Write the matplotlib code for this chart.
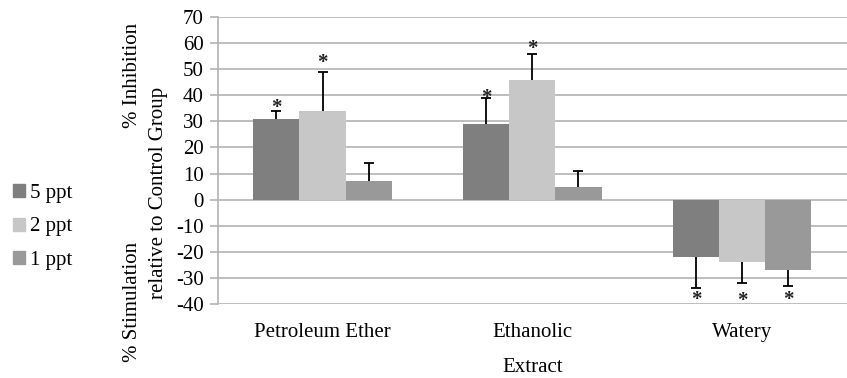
import numpy as np
import matplotlib
matplotlib.use("Agg")
import matplotlib.pyplot as plt
from matplotlib.patches import Patch

# données
extracts = ["Petroleum Ether", "Ethanolic", "Watery"]
series = ["5 ppt", "2 ppt", "1 ppt"]
colors = ["#7f7f7f", "#c6c7c6", "#999999"]

val_5ppt = [31, 29, -22]
val_2ppt = [34, 46, -24]
val_1ppt = [7, 5, -27]

err_5ppt = [3, 10, 12]
err_2ppt = [15, 10, 8]
err_1ppt = [7, 6, 6]

# position des astérisques (valeur en unités de l'axe), None = pas d'astérisque
star_5ppt = [35.0, 38.8, -38.5]
star_2ppt = [52.5, 57.8, -39.0]
star_1ppt = [None, None, -38.5]

values = [val_5ppt, val_2ppt, val_1ppt]
errors = [err_5ppt, err_2ppt, err_1ppt]
stars = [star_5ppt, star_2ppt, star_1ppt]

plt.rcParams["font.family"] = ["Liberation Serif", "DejaVu Serif"]
plt.rcParams["font.size"] = 15
plt.rcParams["axes.unicode_minus"] = False

fig = plt.figure(figsize=(8.47, 3.78), dpi=100)
ax = fig.add_axes([0.257, 0.196, 0.743, 0.759])

grid_col = "#b3b3b3"
x = np.arange(len(extracts))
w = 0.22

for i, (vals, errs, st) in enumerate(zip(values, errors, stars)):
    pos = x + (i - 1) * w
    ax.bar(pos, vals, width=w, color=colors[i], zorder=3)
    vals = np.array(vals)
    errs = np.array(errs)
    ends = np.where(vals < 0, vals - errs, vals + errs)
    # barre d'erreur d'un seul côté
    ax.vlines(pos, vals, ends, color="black", linewidth=1.3, zorder=4)
    ax.plot(pos, ends, ls="none", marker="_", markersize=7.5, mew=1.3,
            color="black", zorder=4)
    for p, s in zip(pos, st):
        if s is not None:
            ax.text(p, s, "*", ha="center", va="center", fontsize=15,
                    fontweight="bold", color="#222222", zorder=5)

ax.set_xlim(-0.5, 2.5)
ax.set_ylim(-40, 70)
ax.set_yticks(range(-40, 71, 10))
ax.set_xticks(x)
ax.set_xticklabels(extracts)
ax.tick_params(axis="x", length=0, pad=14)
ax.tick_params(axis="y", length=6, color=grid_col, width=1.2, pad=4)
ax.yaxis.grid(True, color=grid_col, linewidth=1.2, zorder=0)
ax.set_axisbelow(True)
for s in ["top", "right", "bottom"]:
    ax.spines[s].set_visible(False)
ax.spines["left"].set_color(grid_col)
ax.spines["left"].set_linewidth(1.2)

ax.set_xlabel("Extract", labelpad=11)

# titre de l'axe y en trois morceaux
fig.text(132 / 847, 1 - 75 / 378, "% Inhibition", rotation=90, ha="center", va="center")
fig.text(158 / 847, 1 - 193 / 378, "relative to Control Group", rotation=90, ha="center", va="center")
fig.text(132 / 847, 1 - 302 / 378, "% Stimulation", rotation=90, ha="center", va="center")

handles = [Patch(color=c, label=l) for c, l in zip(colors, series)]
fig.legend(handles=handles, loc="center left", bbox_to_anchor=(0.005, 1 - 227 / 378),
           frameon=False, handlelength=0.6, handleheight=0.6, handletextpad=0.25,
           labelspacing=0.7, borderaxespad=0)

fig.savefig("out.png", dpi=100)
